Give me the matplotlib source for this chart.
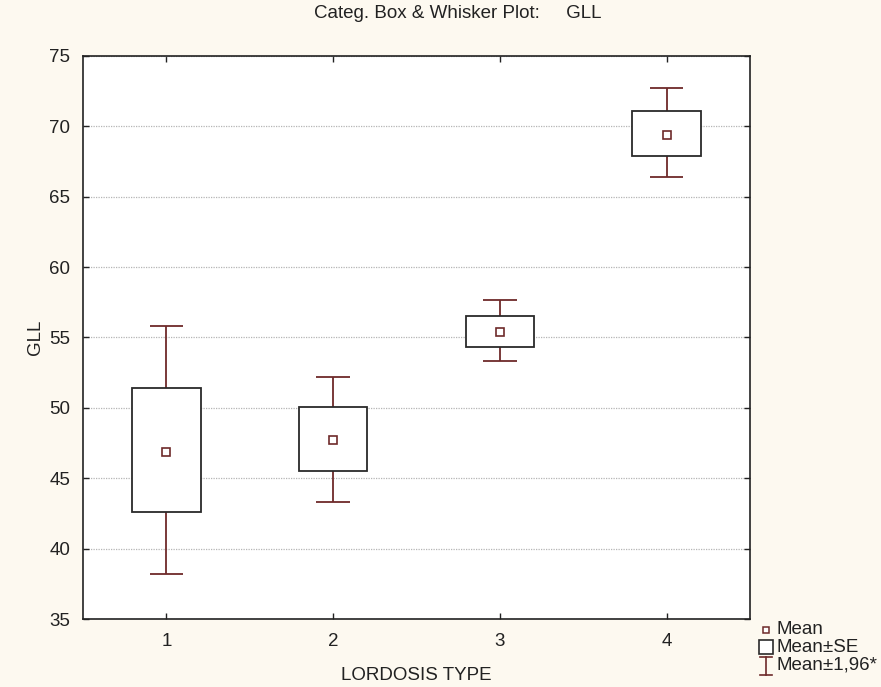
import matplotlib
matplotlib.use("Agg")
import matplotlib.pyplot as plt
from matplotlib.lines import Line2D
from matplotlib.patches import Rectangle

categories = [1, 2, 3, 4]
mean = [46.9, 47.7, 55.4, 69.4]
se_low = [42.6, 45.5, 54.3, 67.9]
se_high = [51.4, 50.07, 56.5, 71.1]
ci_low = [38.2, 43.3, 53.3, 66.4]
ci_high = [55.8, 52.2, 57.65, 72.7]
yticks = [35, 40, 45, 50, 55, 60, 65, 70, 75]

plt.rcParams['font.family'] = ['Liberation Sans', 'DejaVu Sans']

BG = "#fdf9f0"
WHISK = "#6e2a2a"
BOXC = "#2a2a2a"
FS = 13.5

fig = plt.figure(figsize=(8.81, 6.87), dpi=100, facecolor=BG)
ax = fig.add_axes([83/881, 68/687, 667/881, 563/687])
ax.set_facecolor("white")
ax.set_xlim(0.5, 4.5)
ax.set_ylim(35, 75)
ax.set_yticks(yticks)
ax.set_xticks(categories)
ax.set_xticklabels([str(c) for c in categories])
ax.yaxis.grid(True, linestyle=(0, (1, 1)), color="#b5b5b5", linewidth=0.9)
ax.set_axisbelow(True)
ax.tick_params(direction="in", length=4, width=1, color="#222", labelsize=FS,
               top=True, right=True, labelcolor="#222")
ax.tick_params(axis="x", pad=10)
ax.tick_params(axis="y", pad=9)
for s in ax.spines.values():
    s.set_color("#222")
    s.set_linewidth(1.2)

bw = 0.41
cw = 0.2
for x, m, sl, sh, cl, ch in zip(categories, mean, se_low, se_high, ci_low, ci_high):
    ax.vlines(x, cl, sl, color=WHISK, lw=1.3, zorder=2)
    ax.vlines(x, sh, ch, color=WHISK, lw=1.3, zorder=2)
    ax.hlines([cl, ch], x - cw/2, x + cw/2, color=WHISK, lw=1.3, zorder=2)
ax.bar(categories, [h - l for h, l in zip(se_high, se_low)], bottom=se_low, width=bw,
       facecolor="white", edgecolor=BOXC, linewidth=1.3, zorder=3)
ax.plot(categories, mean, linestyle="none", marker="s", markersize=5.5,
        markerfacecolor="white", markeredgecolor=WHISK, markeredgewidth=1.2, zorder=4)

ax.set_ylabel("GLL", fontsize=FS, color="#222", labelpad=4)
ax.set_xlabel("LORDOSIS TYPE", fontsize=FS, color="#222", labelpad=12)
fig.text(458/881, 1 - 13/687, "Categ. Box & Whisker Plot:     GLL", ha="center", va="center",
         fontsize=FS, color="#222")

# legend
lx = 766 / 881
rows = [630, 647, 665]
fig.add_artist(Line2D([lx], [1 - rows[0]/687], marker="s", markersize=5, markerfacecolor="white",
                      markeredgecolor=WHISK, markeredgewidth=1.1, linestyle="none"))
fig.add_artist(Rectangle((759/881, 1 - 654/687), 14/881, 14/687, facecolor="white",
                         edgecolor=BOXC, linewidth=1.2))
y0, y1 = 1 - 657/687, 1 - 675/687
fig.add_artist(Line2D([lx, lx], [y0, y1], color=WHISK, lw=1.2))
fig.add_artist(Line2D([lx - 6/881, lx + 6/881], [y0, y0], color=WHISK, lw=1.2))
fig.add_artist(Line2D([lx - 6/881, lx + 6/881], [y1, y1], color=WHISK, lw=1.2))
for r, t in zip(rows, ["Mean", "Mean±SE", "Mean±1,96*"]):
    fig.text(777/881, 1 - r/687, t, ha="left", va="center", fontsize=FS, color="#222")

fig.savefig("out.png", dpi=100, facecolor=BG)
